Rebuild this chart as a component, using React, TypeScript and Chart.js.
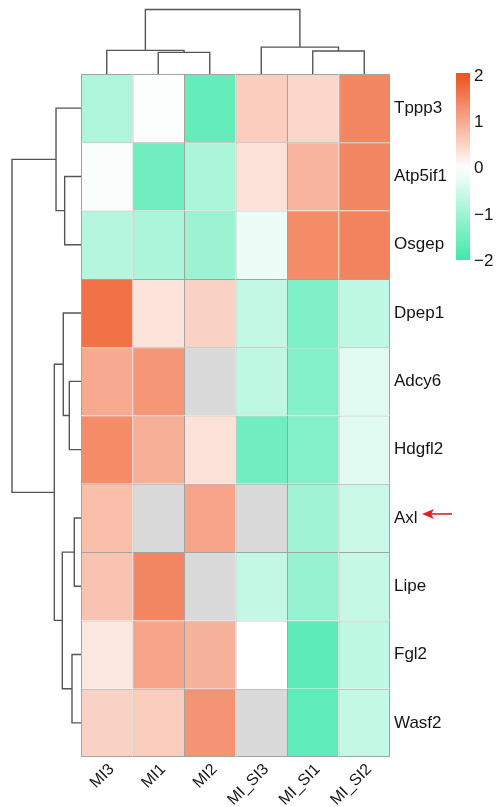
import React, { useEffect, useRef } from 'react';
import { Chart, registerables } from 'chart.js';

Chart.register(...registerables);

const columns = ['MI3', 'MI1', 'MI2', 'MI_SI3', 'MI_SI1', 'MI_SI2'];
const genes = ['Tppp3', 'Atp5if1', 'Osgep', 'Dpep1', 'Adcy6', 'Hdgfl2', 'Axl', 'Lipe', 'Fgl2', 'Wasf2'];

const tppp3 = [-0.84, -0.05, -1.62, 0.58, 0.47, 1.4];
const atp5if1 = [-0.06, -1.5, -0.88, 0.35, 0.88, 1.4];
const osgep = [-0.78, -0.88, -1.05, -0.2, 1.35, 1.45];
const dpep1 = [1.65, 0.32, 0.53, -0.63, -1.33, -0.68];
const adcy6 = [1.0, 1.23, null, -0.68, -1.3, -0.31];
const hdgfl2 = [1.35, 0.93, 0.35, -1.5, -1.3, -0.31];
const axl = [0.75, null, 1.05, null, -1.0, -0.58];
const lipe = [0.7, 1.4, null, -0.63, -1.1, -0.6];
const fgl2 = [0.27, 1.05, 0.9, 0.0, -1.7, -0.68];
const wasf2 = [0.53, 0.58, 1.25, null, -1.68, -0.63];
const values: (number | null)[][] = [tppp3, atp5if1, osgep, dpep1, adcy6, hdgfl2, axl, lipe, fgl2, wasf2];

// hclust-style merges: negative = leaf (1-based), positive = earlier merge (1-based), then height
const colMerges: [number, number, number][] = [
  [-2, -3, 0.317],
  [-1, 1, 0.346],
  [-5, -6, 0.336],
  [-4, 3, 0.394],
  [2, 4, 0.945],
];
const rowMerges: [number, number, number][] = [
  [-2, -3, 0.317],
  [-1, 1, 0.485],
  [-5, -6, 0.227],
  [-4, 3, 0.344],
  [-7, -8, 0.13],
  [-9, -10, 0.175],
  [5, 6, 0.363],
  [4, 7, 0.518],
  [2, 8, 1.34],
];

const legendTicks = [2, 1, 0, -1, -2];
const legendLabels = ['2', '1', '0', '\u22121', '\u22122'];

const HIGH = [238, 84, 32];
const LOW = [64, 232, 170];
const NA_COLOR = '#dadada';
const BORDER = '#a3a3a3';
const DEND = '#555555';
const TEXT = '#151515';
const FONT_FAMILY = '"Liberation Sans", Arial, sans-serif';

function colorFor(v: number | null): string {
  if (v === null || v === undefined) return NA_COLOR;
  const t = Math.max(-1, Math.min(1, v / 2));
  const c = t >= 0 ? HIGH : LOW;
  const a = Math.abs(t);
  const mix = (k: number) => Math.round(255 + (c[k] - 255) * a);
  return `rgb(${mix(0)},${mix(1)},${mix(2)})`;
}

function dendroSegments(
  merges: [number, number, number][],
  leafPos: (i: number) => number,
  toXY: (pos: number, h: number) => { x: number; y: number }
) {
  const nodePos: number[] = [];
  const nodeH: number[] = [];
  const get = (ref: number) =>
    ref < 0 ? { p: leafPos(-ref - 1), h: 0 } : { p: nodePos[ref - 1], h: nodeH[ref - 1] };
  const segs: { x: number; y: number }[][] = [];
  merges.forEach(([a, b, h]) => {
    const A = get(a);
    const B = get(b);
    segs.push([toXY(A.p, A.h), toXY(A.p, h), toXY(B.p, h), toXY(B.p, B.h)]);
    nodePos.push((A.p + B.p) / 2);
    nodeH.push(h);
  });
  return segs;
}

const decorPlugin = {
  id: 'decor',
  afterDraw(chart: any) {
    const ctx = chart.ctx;
    // colour key
    const cbLeft = 456, cbWidth = 14, cbTop = 73, cbBottom = 260;
    const cbMax = 2.05, cbMin = -2.0;
    const yFor = (v: number) => cbTop + ((cbMax - v) / (cbMax - cbMin)) * (cbBottom - cbTop);
    const grad = ctx.createLinearGradient(0, cbTop, 0, cbBottom);
    const steps = 20;
    for (let i = 0; i <= steps; i++) {
      const v = cbMax - (i / steps) * (cbMax - cbMin);
      grad.addColorStop(i / steps, colorFor(v));
    }
    ctx.save();
    ctx.fillStyle = grad;
    ctx.fillRect(cbLeft, cbTop, cbWidth, cbBottom - cbTop);
    ctx.fillStyle = TEXT;
    ctx.font = `17px ${FONT_FAMILY}`;
    ctx.textAlign = 'left';
    ctx.textBaseline = 'middle';
    legendTicks.forEach((v, i) => {
      ctx.fillText(legendLabels[i], cbLeft + cbWidth + 4, yFor(v) + 1);
    });
    // red arrow beside Axl
    const yl = chart.scales.yl;
    const ay = yl.getPixelForValue(genes.indexOf('Axl')) - 4;
    ctx.strokeStyle = '#e3201b';
    ctx.fillStyle = '#e3201b';
    ctx.lineWidth = 1.6;
    ctx.beginPath();
    ctx.moveTo(452, ay);
    ctx.lineTo(430, ay);
    ctx.stroke();
    ctx.beginPath();
    ctx.moveTo(422, ay);
    ctx.lineTo(434, ay - 5);
    ctx.lineTo(431, ay);
    ctx.lineTo(434, ay + 5);
    ctx.closePath();
    ctx.fill();
    ctx.restore();
  },
};

export default function App() {
  const ref = useRef<HTMLCanvasElement | null>(null);
  useEffect(() => {
    if (!ref.current) return;
    const nCols = columns.length;
    const nRows = genes.length;

    const barSets = genes.map((g, r) => ({
      type: 'bar' as const,
      label: g,
      data: columns.map((_, c) => ({ x: c, y: [r, r + 1] })),
      backgroundColor: values[r].map(colorFor),
      borderColor: BORDER,
      borderWidth: columns.map((_, c) => ({
        left: 1,
        top: 1,
        right: c === nCols - 1 ? 1 : 0,
        bottom: r === nRows - 1 ? 1 : 0,
      })),
      borderSkipped: false,
      grouped: false,
      barPercentage: 1,
      categoryPercentage: 1,
      inflateAmount: 0,
      order: 2,
    }));

    const colSegs = dendroSegments(colMerges, (i) => i, (p, h) => ({ x: p, y: -h }));
    const rowSegs = dendroSegments(rowMerges, (i) => i + 0.5, (p, h) => ({ x: -0.5 - h, y: p }));
    const lineSets = [...colSegs, ...rowSegs].map((pts) => ({
      type: 'line' as const,
      data: pts,
      borderColor: DEND,
      borderWidth: 1.4,
      pointRadius: 0,
      fill: false,
      tension: 0,
      clip: false as any,
      order: 1,
    }));

    const chart = new Chart(ref.current, {
      type: 'bar',
      data: { datasets: [...barSets, ...lineSets] as any },
      options: {
        animation: false,
        responsive: false,
        devicePixelRatio: 1,
        layout: { padding: { left: 81, top: 74, right: 0, bottom: 0 } },
        plugins: { legend: { display: false }, tooltip: { enabled: false } },
        events: [],
        scales: {
          x: {
            type: 'linear',
            min: -0.5,
            max: nCols - 0.5,
            offset: false,
            position: 'bottom',
            grid: { display: false, drawTicks: false },
            border: { display: false },
            afterBuildTicks: (s: any) => {
              s.ticks = columns.map((_, i) => ({ value: i }));
            },
            ticks: {
              font: { family: FONT_FAMILY, size: 16 },
              color: TEXT,
              maxRotation: 45,
              minRotation: 45,
              autoSkip: false,
              padding: 3,
              labelOffset: 5,
              callback: (v: any) => columns[Math.round(Number(v))] ?? '',
            },
            afterFit: (s: any) => { s.height = 50; },
          },
          y: { type: 'linear', min: 0, max: nRows, reverse: true, offset: false, display: false },
          yl: {
            type: 'category',
            labels: genes,
            position: 'right',
            offset: true,
            grid: { display: false, drawTicks: false },
            border: { display: false },
            ticks: { font: { family: FONT_FAMILY, size: 17 }, color: TEXT, padding: 4, autoSkip: false },
            afterFit: (s: any) => { s.width = 110; },
          },
        } as any,
      },
      plugins: [decorPlugin],
    });
    return () => chart.destroy();
  }, []);

  return (
    <div style={{ position: 'fixed', left: 0, top: 0, width: 500, height: 807, background: '#fff' }}>
      <canvas ref={ref} width={500} height={807} style={{ display: 'block' }} />
    </div>
  );
}
